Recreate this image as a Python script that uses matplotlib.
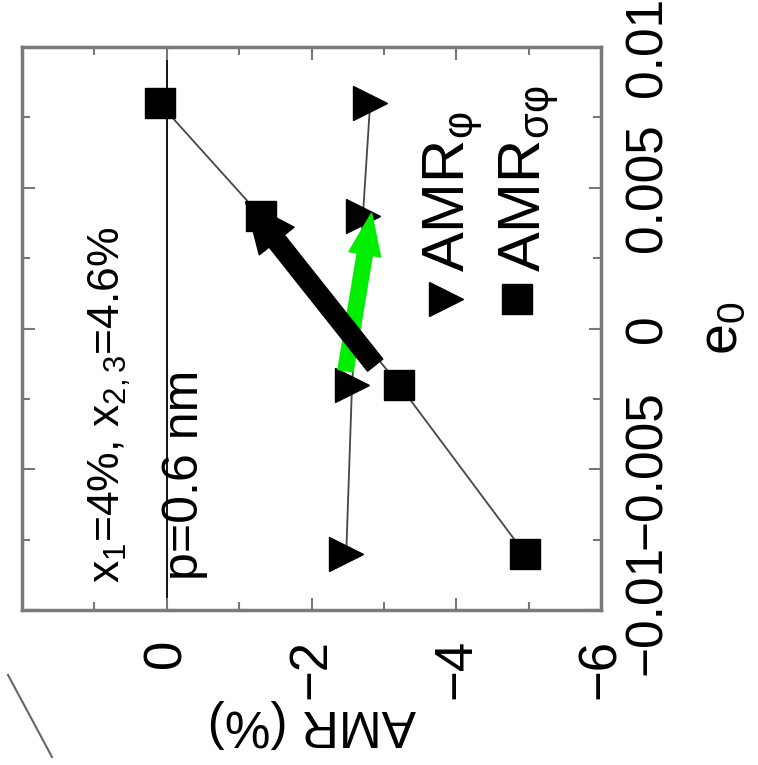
import numpy as np
import matplotlib.pyplot as plt
from matplotlib.patches import FancyArrowPatch
from matplotlib.patches import ArrowStyle
from matplotlib.lines import Line2D
from matplotlib.ticker import MultipleLocator, FixedLocator, FixedFormatter

plt.rcParams['font.family'] = ['Liberation Sans', 'DejaVu Sans']
plt.rcParams['mathtext.fontset'] = 'custom'
plt.rcParams['mathtext.rm'] = 'Liberation Sans'
plt.rcParams['mathtext.it'] = 'Liberation Sans:italic'
plt.rcParams['mathtext.default'] = 'regular'

# strain e0 and AMR (%) for both current configurations
strain = [-0.008, -0.002, 0.004, 0.008]
amr_phi = [-2.48, -2.56, -2.71, -2.81]
amr_sphi = [-4.95, -3.21, -1.30, 0.10]

# arrows, (AMR, strain) of tail and head
black_arrow = [(-2.88, -0.0013), (-1.09, 0.0045)]
green_arrow = [(-2.47, -0.0015), (-2.83, 0.0041)]

amr_ticks = [0, -2, -4, -6]
amr_labels = ['0', '\u22122', '\u22124', '\u22126']
strain_ticks = [-0.01, -0.005, 0, 0.005, 0.01]
strain_labels = ['\u22120.01', '\u22120.005', '0', '0.005', '0.01']

fig = plt.figure(figsize=(7.58, 7.65), dpi=100)
# the plot is laid out turned a quarter turn: AMR runs along x, strain along y
ax = fig.add_axes([0.029, 0.2026, 0.7639, 0.7359])

ax.axvline(0, color='k', lw=1.3, zorder=1)
ax.plot(amr_phi, strain, color='#454545', lw=1.3, marker='>', ms=25,
        mfc='k', mec='k', zorder=3)
ax.plot(amr_sphi, strain, color='#454545', lw=1.3, marker='s', ms=22,
        mfc='k', mec='k', zorder=3)

ax.add_patch(FancyArrowPatch(green_arrow[0], green_arrow[1],
                             arrowstyle=ArrowStyle.Simple(head_length=30, head_width=23, tail_width=11),
                             mutation_scale=1, color='#00ee00', shrinkA=0, shrinkB=0, zorder=4))
ax.add_patch(FancyArrowPatch(black_arrow[0], black_arrow[1],
                             arrowstyle=ArrowStyle.Simple(head_length=36, head_width=32, tail_width=14),
                             mutation_scale=1, color='k', shrinkA=0, shrinkB=0, zorder=5))

ax.set_xlim(2, -6)
ax.set_ylim(-0.01, 0.01)

ax.xaxis.set_major_locator(FixedLocator(amr_ticks))
ax.xaxis.set_major_formatter(FixedFormatter(amr_labels))
ax.xaxis.set_minor_locator(MultipleLocator(1))
ax.yaxis.set_major_locator(FixedLocator(strain_ticks))
ax.yaxis.set_major_formatter(FixedFormatter(strain_labels))
ax.yaxis.set_minor_locator(MultipleLocator(0.0025))

ax.yaxis.tick_right()
ax.tick_params(which='both', direction='in', top=True, bottom=True, left=True, right=True,
               color='#777777', width=1.5)
ax.tick_params(which='major', length=9)
ax.tick_params(which='minor', length=6)
ax.tick_params(axis='x', labelsize=38, pad=21, labelrotation=90)
ax.tick_params(axis='y', labelsize=37, pad=16, labelleft=False, labelright=True)
for lab in ax.get_yticklabels():
    lab.set_rotation(90)
    lab.set_va('center')

for sp in ax.spines.values():
    sp.set_color('#7a7a7a')
    sp.set_linewidth(2.5)

ax.set_xlabel('AMR (%)', fontsize=37, rotation=180, labelpad=0)
ax.yaxis.set_label_position('right')
ax.set_ylabel('e$_0$', fontsize=40, rotation=90, labelpad=18)

ax.text(0.169, 0.048, 'x$_1$=4%, x$_{2,3}$=4.6%', transform=ax.transAxes, rotation=90,
        rotation_mode='anchor', ha='left', va='baseline', fontsize=32)
ax.text(0.304, 0.053, 'p=0.6 nm', transform=ax.transAxes, rotation=90,
        rotation_mode='anchor', ha='left', va='baseline', fontsize=36)

# legend
ax.plot([0.732], [0.552], marker='>', ms=25, color='k', transform=ax.transAxes)
ax.plot([0.855], [0.552], marker='s', ms=22, color='k', transform=ax.transAxes)
ax.text(0.765, 0.600, 'AMR$_{\u03c6}$', transform=ax.transAxes, rotation=90,
        rotation_mode='anchor', ha='left', va='baseline', fontsize=43)
ax.text(0.895, 0.600, 'AMR$_{\u03c3\u03c6}$', transform=ax.transAxes, rotation=90,
        rotation_mode='anchor', ha='left', va='baseline', fontsize=43)

fig.add_artist(Line2D([0.0106, 0.0686], [0.1176, 0.0105], transform=fig.transFigure,
                      color='#666666', lw=1.5))

fig.savefig('out.png', dpi=100)
